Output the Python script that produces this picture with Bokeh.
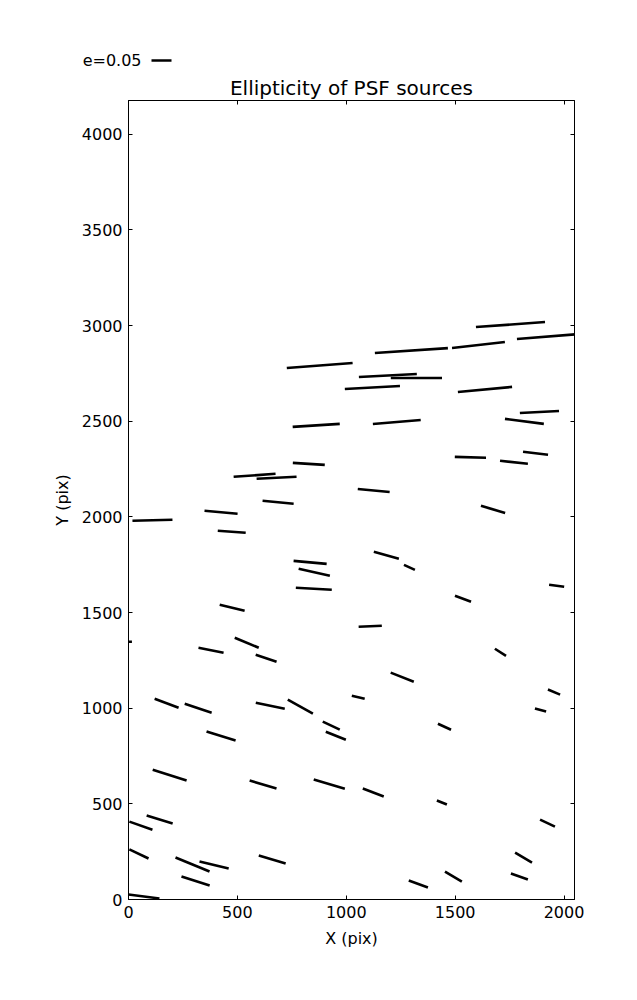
import numpy as np
from bokeh.plotting import figure
from bokeh.models import Range1d, LinearAxis, FixedTicker
from bokeh.core.properties import value
from bokeh.embed import file_html
from bokeh.resources import INLINE

# ---- data: PSF source positions (pix), ellipticity and orientation (deg) ----
x_pix = [1754, 1299, 1607, 1954, 878, 1191, 1322, 1120, 1637, 862,
         1232, 1887, 1818, 828, 1570, 1770, 1869, 579, 680, 1126,
         687, 1674, 110, 425, 474, 1184, 1290, 834, 853, 851,
         1966, 1536, 476, 1110, 2, 379, 543, 632, 1708, 1257,
         1954, 1055, 789, 175, 320, 651, 1892, 931, 952, 1451,
         425, 189, 618, 922, 1124, 1439, 143, 57, 1924, 48,
         294, 393, 660, 1814, 1795, 308, 1331, 1492, 71]
y_pix = [3005, 2869, 2898, 2945, 2791, 2739, 2726, 2676, 2666, 2478,
         2496, 2548, 2499, 2277, 2311, 2285, 2332, 2217, 2204, 2138,
         2076, 2039, 1982, 2024, 1922, 1799, 1736, 1762, 1710, 1624,
         1640, 1572, 1525, 1428, 1347, 1303, 1342, 1261, 1292, 1162,
         1084, 1057, 1008, 1026, 1000, 1013, 990, 909, 856, 903,
         854, 650, 601, 603, 559, 507, 418, 386, 399, 238,
         183, 180, 209, 219, 120, 97, 81, 120, 16]
ellip = [0.173, 0.183, 0.133, 0.186, 0.165, 0.145, 0.128, 0.138, 0.136, 0.118,
         0.120, 0.098, 0.098, 0.080, 0.078, 0.070, 0.063, 0.105, 0.100, 0.080,
         0.078, 0.063, 0.100, 0.083, 0.070, 0.065, 0.030, 0.083, 0.080, 0.090,
         0.038, 0.043, 0.064, 0.058, 0.015, 0.064, 0.065, 0.055, 0.033, 0.062,
         0.033, 0.033, 0.072, 0.064, 0.071, 0.074, 0.029, 0.047, 0.054, 0.036,
         0.076, 0.089, 0.070, 0.081, 0.056, 0.027, 0.068, 0.061, 0.041, 0.053,
         0.092, 0.075, 0.070, 0.049, 0.045, 0.074, 0.051, 0.049, 0.078]
theta_deg = [4.1, 3.9, 6.5, 4.6, 4.3, 3.0, 0.0, 3.1, 5.3, 3.7,
             4.8, 2.9, -7.3, -3.6, -1.8, -6.1, -6.8, 4.1, 2.9, -5.4,
             -5.5, -16.3, 1.4, -5.2, -4.1, -15.6, -24.4, -5.2, -12.7, -3.2,
             -7.6, -20.6, -13.5, 2.5, 0.0, -11.3, -22.6, -18.4, -32.5, -21.4,
             -22.6, -13.0, -29.2, -20.6, -18.4, -11.7, -15.3, -25.2, -21.8, -24.8,
             -17.2, -17.9, -16.5, -16.2, -20.9, -21.8, -17.1, -19.2, -25.0, -25.3,
             -22.4, -13.6, -16.5, -30.5, -19.4, -17.8, -20.2, -30.5, -7.4]
x_ticks = [0, 500, 1000, 1500, 2000]
y_ticks = [0, 500, 1000, 1500, 2000, 2500, 3000, 3500, 4000]
key_e = 0.05
key_label = "e=0.05"
title_text = "Ellipticity of PSF sources"

# ---- layout / style ----
XMIN, XMAX = 0, 2048
YMIN, YMAX = 0, 4176
FRAME_W, FRAME_H = 446, 799
LEFT, RIGHT, BOTTOM = 128, 40, 80
TOP_H = 100                # header strip (title + key) height in px
KEY_LEN_PX = 20.0          # screen length of whisker with e = key_e
FONT = "DejaVu Sans"
TOTAL_W = LEFT + FRAME_W + RIGHT

px_x = FRAME_W / (XMAX - XMIN)
px_y = FRAME_H / (YMAX - YMIN)

x = np.array(x_pix, float)
y = np.array(y_pix, float)
e = np.array(ellip, float)
th = np.radians(np.array(theta_deg, float))
half = e / key_e * KEY_LEN_PX / 2.0
dx = half * np.cos(th) / px_x
dy = half * np.sin(th) / px_y

# ---- header strip: title and ellipticity key (pixel coordinates) ----
hdr = figure(width=TOTAL_W, height=TOP_H,
             x_range=Range1d(0, TOTAL_W), y_range=Range1d(0, TOP_H),
             output_backend="svg", toolbar_location=None,
             min_border=0, background_fill_color="white",
             border_fill_color="white")
hdr.axis.visible = False
hdr.grid.visible = False
hdr.outline_line_color = None
hdr.text(x=[LEFT + FRAME_W / 2], y=[TOP_H - 87], text=[title_text],
         text_align="center", text_baseline="middle",
         text_font=value(FONT), text_font_size="20px", text_color="black")
hdr.text(x=[LEFT + 13], y=[TOP_H - 60], text=[key_label],
         text_align="right", text_baseline="middle",
         text_font=value(FONT), text_font_size="16px", text_color="black")
hdr.segment(x0=[LEFT + 23], y0=[TOP_H - 60],
            x1=[LEFT + 23 + KEY_LEN_PX * key_e / key_e], y1=[TOP_H - 60],
            line_color="black", line_width=2.6, line_cap="butt")

# ---- main plot ----
p = figure(frame_width=FRAME_W, frame_height=FRAME_H,
           x_range=Range1d(XMIN, XMAX), y_range=Range1d(YMIN, YMAX),
           output_backend="svg", toolbar_location=None,
           min_border_left=LEFT, min_border_top=0,
           min_border_right=RIGHT, min_border_bottom=BOTTOM,
           background_fill_color="white", border_fill_color="white")
p.grid.visible = False
p.outline_line_color = "black"
p.outline_line_width = 1

p.segment(x0=x - dx, y0=y - dy, x1=x + dx, y1=y + dy,
          line_color="black", line_width=2.6, line_cap="butt")

def style_axis(ax, show_labels=True):
    ax.major_tick_in = 4
    ax.major_tick_out = 0
    ax.minor_tick_line_color = None
    ax.axis_line_color = "black"
    ax.major_tick_line_color = "black"
    ax.major_label_text_font = FONT
    if show_labels:
        ax.major_label_text_color = "black"
        ax.major_label_text_font_size = "16px"
        ax.major_label_standoff = 6
    else:
        ax.major_label_text_color = None
        ax.major_label_text_font_size = "0px"
        ax.major_label_standoff = 0
    ax.axis_label_text_font = FONT
    ax.axis_label_text_font_size = "16px"
    ax.axis_label_text_font_style = "normal"
    ax.axis_label_text_color = "black"

p.xaxis.ticker = FixedTicker(ticks=x_ticks)
p.yaxis.ticker = FixedTicker(ticks=y_ticks)
p.xaxis.axis_label = "X (pix)"
p.yaxis.axis_label = "Y (pix)"
style_axis(p.xaxis[0])
style_axis(p.yaxis[0])
p.xaxis.axis_label_standoff = 8
p.yaxis.axis_label_standoff = 7

top_ax = LinearAxis(ticker=FixedTicker(ticks=x_ticks))
right_ax = LinearAxis(ticker=FixedTicker(ticks=y_ticks))
style_axis(top_ax, False)
style_axis(right_ax, False)
p.add_layout(top_ax, "above")
p.add_layout(right_ax, "right")

# two independent roots stacked on the page (no frame alignment between them)
open("out.html", "w").write(file_html([hdr, p], INLINE))
